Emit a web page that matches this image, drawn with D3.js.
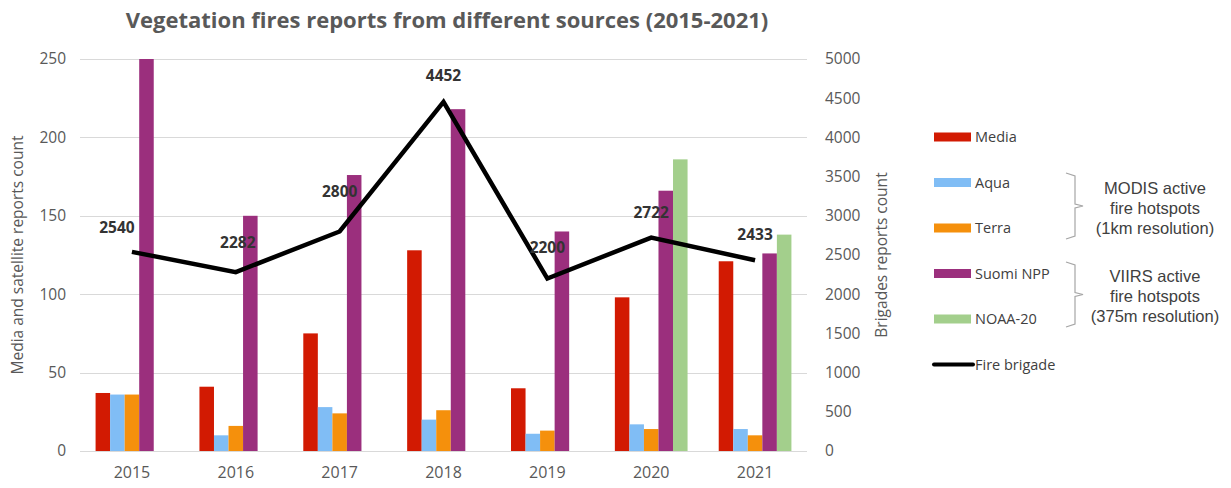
<!DOCTYPE html>
<html>
<head>
<meta charset="utf-8">
<script src="https://cdn.jsdelivr.net/npm/d3@7"></script>
<style>
  html, body { margin: 0; padding: 0; background: #ffffff; }
  svg { display: block; }
</style>
</head>
<body>
<svg id="chart" width="1231" height="488"></svg>
<script>
// Yearly counts of vegetation fire reports by source
const years = ["2015", "2016", "2017", "2018", "2019", "2020", "2021"];
const media    = [37, 41, 75, 128, 40, 98, 121];
const aqua     = [36, 10, 28, 20, 11, 17, 14];
const terra    = [36, 16, 24, 26, 13, 14, 10];
const suomiNpp = [250, 150, 176, 218, 140, 166, 126];
const noaa20   = [null, null, null, null, null, 186, 138];
const fireBrigade = [2540, 2282, 2800, 4452, 2200, 2722, 2433];

const leftTicks = [0, 50, 100, 150, 200, 250];
const rightTicks = [0, 500, 1000, 1500, 2000, 2500, 3000, 3500, 4000, 4500, 5000];

const seriesNames = ["Media", "Aqua", "Terra", "Suomi NPP", "NOAA-20"];
const seriesValues = [media, aqua, terra, suomiNpp, noaa20];
const seriesColors = ["#d21a02", "#80bdf5", "#f5900c", "#9b2f7d", "#a3cf8c"];

const svg = d3.select("#chart");
const plot = { left: 80, right: 807, top: 59, bottom: 451 };

const x0 = d3.scaleBand().domain(years).range([plot.left, plot.right]).padding(0);
const groupGap = x0.bandwidth() * 0.15;
const x1 = d3.scaleBand().domain(seriesNames).range([groupGap, x0.bandwidth() - groupGap]).padding(0);
const yL = d3.scaleLinear().domain([0, 250]).range([plot.bottom, plot.top]);
const yR = d3.scaleLinear().domain([0, 5000]).range([plot.bottom, plot.top]);

const tickFont = "'Open Sans', sans-serif";
const textGrey = "#595959";

// Horizontal gridlines
svg.append("g")
  .selectAll("line")
  .data(leftTicks)
  .join("line")
  .attr("x1", plot.left).attr("x2", plot.right)
  .attr("y1", d => Math.round(yL(d)) + 0.5).attr("y2", d => Math.round(yL(d)) + 0.5)
  .attr("stroke", "#d9d9d9").attr("stroke-width", 1);

// Bars
const barRows = [];
years.forEach((yr, i) => {
  seriesNames.forEach((name, j) => {
    const v = seriesValues[j][i];
    if (v != null) barRows.push({ yr, name, v, color: seriesColors[j] });
  });
});
svg.append("g")
  .selectAll("rect")
  .data(barRows)
  .join("rect")
  .attr("x", d => x0(d.yr) + x1(d.name))
  .attr("width", x1.bandwidth())
  .attr("y", d => yL(d.v))
  .attr("height", d => yL(0) - yL(d.v))
  .attr("fill", d => d.color);

// Left axis
const axL = svg.append("g")
  .attr("transform", `translate(${plot.left - 14},0)`)
  .call(d3.axisLeft(yL).tickValues(leftTicks).tickFormat(d3.format("d")).tickSize(0).tickPadding(0));
axL.select(".domain").remove();
axL.selectAll("text").attr("font-family", tickFont).attr("font-size", 15.5).attr("fill", textGrey);

// Right axis
const axR = svg.append("g")
  .attr("transform", `translate(${plot.right + 18},0)`)
  .call(d3.axisRight(yR).tickValues(rightTicks).tickFormat(d3.format("d")).tickSize(0).tickPadding(0));
axR.select(".domain").remove();
axR.selectAll("text").attr("font-family", tickFont).attr("font-size", 15.5).attr("fill", textGrey);

// Category axis
const axB = svg.append("g")
  .attr("transform", `translate(0,${plot.bottom + 13})`)
  .call(d3.axisBottom(x0).tickSize(0).tickPadding(0));
axB.select(".domain").remove();
axB.selectAll("text").attr("font-family", tickFont).attr("font-size", 16).attr("fill", textGrey).attr("dy", "0.85em");

// Fire brigade line
const linePts = years.map((yr, i) => ({ yr, v: fireBrigade[i] }));
svg.append("path")
  .datum(linePts)
  .attr("fill", "none")
  .attr("stroke", "#000000")
  .attr("stroke-width", 4.5)
  .attr("stroke-linejoin", "miter")
  .attr("d", d3.line().x(d => x0(d.yr) + x0.bandwidth() / 2).y(d => yR(d.v)));

// Point labels (nudged to clear the bars)
const labelNudge = [[-15, -24], [2, -30], [0, -40], [0, -26], [0, -31], [0, -25], [0, -26]];
svg.append("g")
  .selectAll("text")
  .data(linePts)
  .join("text")
  .attr("x", (d, i) => x0(d.yr) + x0.bandwidth() / 2 + labelNudge[i][0])
  .attr("y", (d, i) => yR(d.v) + labelNudge[i][1])
  .attr("dy", "0.35em")
  .attr("text-anchor", "middle")
  .attr("font-family", tickFont)
  .attr("font-weight", "bold")
  .attr("font-size", 15.5)
  .attr("fill", "#333333")
  .text(d => d.v);

// Title
svg.append("text")
  .attr("x", 447).attr("y", 28)
  .attr("text-anchor", "middle")
  .attr("font-family", "'Open Sans', sans-serif")
  .attr("font-weight", "bold")
  .attr("font-size", 22)
  .attr("fill", textGrey)
  .text("Vegetation fires reports from different sources (2015-2021)");

// Axis titles
svg.append("text")
  .attr("transform", `translate(23,${(plot.top + plot.bottom) / 2}) rotate(-90)`)
  .attr("text-anchor", "middle")
  .attr("font-family", tickFont).attr("font-size", 15.5).attr("fill", textGrey)
  .text("Media and satellite reports count");
svg.append("text")
  .attr("transform", `translate(887,255) rotate(-90)`)
  .attr("text-anchor", "middle")
  .attr("font-family", tickFont).attr("font-size", 15.5).attr("fill", textGrey)
  .text("Brigades reports count");

// Legend
const legendX = 934, legendTop = 137, legendStep = 45.5;
const legend = svg.append("g");
seriesNames.forEach((name, j) => {
  const cy = legendTop + j * legendStep;
  legend.append("rect")
    .attr("x", legendX).attr("y", cy - 4.5).attr("width", 37).attr("height", 9)
    .attr("fill", seriesColors[j]);
  legend.append("text")
    .attr("x", legendX + 41).attr("y", cy).attr("dy", "0.35em")
    .attr("font-family", tickFont).attr("font-size", 14.5).attr("fill", "#404040")
    .text(name);
});
const lineY = legendTop + 5 * legendStep;
legend.append("line")
  .attr("x1", legendX).attr("x2", legendX + 39)
  .attr("y1", lineY).attr("y2", lineY)
  .attr("stroke", "#000").attr("stroke-width", 4).attr("stroke-linecap", "round");
legend.append("text")
  .attr("x", legendX + 41).attr("y", lineY).attr("dy", "0.35em")
  .attr("font-family", tickFont).attr("font-size", 14.5).attr("fill", "#404040")
  .text("Fire brigade");

// Sensor group brackets
const groups = [
  { top: 173, bottom: 239, lines: ["MODIS active", "fire hotspots", "(1km resolution)"] },
  { top: 262, bottom: 327, lines: ["VIIRS active", "fire hotspots", "(375m resolution)"] }
];
groups.forEach(g => {
  const mid = (g.top + g.bottom) / 2;
  legend.append("path")
    .attr("fill", "none").attr("stroke", "#a6a6a6").attr("stroke-width", 1.2)
    .attr("d", `M1066,${g.top} L1075,${g.top + 3} L1075,${mid - 2} L1083,${mid} L1075,${mid + 2} L1075,${g.bottom - 3} L1066,${g.bottom}`);
  g.lines.forEach((t, k) => {
    legend.append("text")
      .attr("x", 1155).attr("y", mid - 18 + k * 20).attr("dy", "0.35em")
      .attr("text-anchor", "middle")
      .attr("font-family", "'Liberation Sans', Arial, sans-serif")
      .attr("font-size", 16.5).attr("fill", "#404040")
      .text(t);
  });
});
</script>
</body>
</html>
